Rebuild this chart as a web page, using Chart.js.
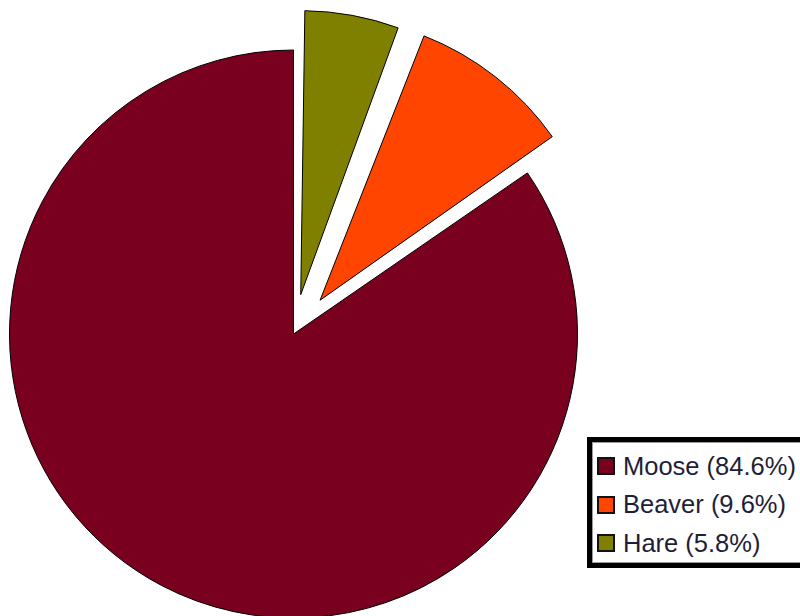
<!DOCTYPE html>
<html>
<head>
<meta charset="utf-8">
<script src="https://cdn.jsdelivr.net/npm/chart.js@4/dist/chart.umd.min.js"></script>
<style>
  html, body { margin: 0; padding: 0; background: #ffffff; overflow: hidden; }
  #wrap { position: relative; width: 800px; height: 616px; }
  #pie { position: absolute; left: 0; top: 0; }
  #legend {
    position: absolute; left: 587px; top: 437px;
    width: 240px; height: 131px; box-sizing: border-box;
    border: 5px solid #000; box-shadow: inset 0 0 0 1px #9a9a9a;
    background: #fff; padding: 5px 0 0 5px;
    font-family: "Liberation Sans", Arial, sans-serif; font-size: 25.5px; color: #1e1e38;
  }
  .row { display: flex; align-items: center; height: 38.5px; white-space: nowrap; }
  .sw { width: 14px; height: 14px; border: 2px solid #111; margin-right: 8px; flex: none; }
</style>
</head>
<body>
<div id="wrap">
  <canvas id="pie" width="800" height="616"></canvas>
  <div id="legend"></div>
</div>
<script>
// Share of each animal, in percent
const categories = ['Moose', 'Beaver', 'Hare'];
const shares = [84.6, 9.6, 5.8];
// How far each slice is pulled out of the pie, in pixels
const pullOut = [0, 43, 40];
const colours = ['#7a0020', '#ff4500', '#808000'];

// Slices run clockwise from 12 o'clock starting with the last category
const order = categories.map((_, i) => i).reverse();

// Keep exploded slices at the pie's own radius (Chart.js grows offset arcs)
const keepRadius = {
  id: 'keepRadius',
  afterDatasetUpdate(chart, args) {
    const meta = chart.getDatasetMeta(args.index);
    meta.data.forEach(arc => {
      const off = (arc.options && arc.options.offset || 0) / 4;
      if (!off) return;
      const fix = 1 - Math.sin(Math.min(Math.PI, arc.circumference || 0));
      arc.outerRadius -= off * fix;
    });
  }
};

new Chart(document.getElementById('pie'), {
  type: 'pie',
  data: {
    labels: order.map(i => categories[i]),
    datasets: [{
      data: order.map(i => shares[i]),
      backgroundColor: order.map(i => colours[i]),
      offset: order.map(i => pullOut[i] * 4),
      borderColor: '#000000',
      borderWidth: 1,
      borderJoinStyle: 'miter',
      radius: 284,
      clip: false
    }]
  },
  plugins: [keepRadius],
  options: {
    responsive: false,
    animation: false,
    events: [],
    layout: { padding: { left: 0, right: 213, top: 52, bottom: 0 } },
    plugins: {
      legend: { display: false },
      tooltip: { enabled: false }
    }
  }
});

// Legend box
const legend = document.getElementById('legend');
categories.forEach((name, i) => {
  const row = document.createElement('div');
  row.className = 'row';
  const sw = document.createElement('span');
  sw.className = 'sw';
  sw.style.background = colours[i];
  const label = document.createElement('span');
  label.textContent = name + ' (' + shares[i].toFixed(1) + '%)';
  row.appendChild(sw);
  row.appendChild(label);
  legend.appendChild(row);
});
</script>
</body>
</html>
